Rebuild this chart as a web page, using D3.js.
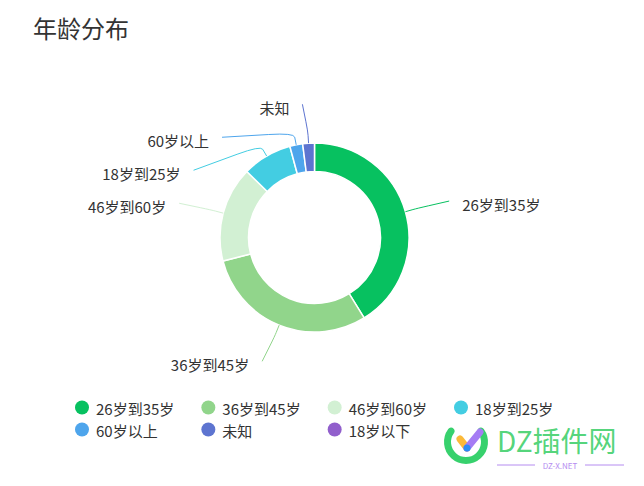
<!DOCTYPE html>
<html>
<head>
<meta charset="utf-8">
<script src="https://cdn.jsdelivr.net/npm/d3@7"></script>
<style>
  body { margin: 0; background: #fff; }
  text { font-family: "Microsoft YaHei", "Noto Sans CJK SC", sans-serif; }
</style>
</head>
<body>
<script>
let w = 644;
let h = 486;

let categories = ['26岁到35岁', '36岁到45岁', '46岁到60岁', '18岁到25岁', '60岁以上', '未知', '18岁以下'];
let values = [412, 298, 163, 85, 22, 20, 0];
let colors = ['#07c160', '#91d58b', '#d2f0d3', '#43cde2', '#4ea5ec', '#5d74d0', '#915fcc'];

let dataset = categories.map((c, i) => ({ name: c, value: values[i], color: colors[i] }));

let cx = 314.5;
let cy = 237.5;
let outer = 94.5;
let inner = 66;

let svg = d3.select('body')
  .append('svg')
  .attr('width', w)
  .attr('height', h);

svg.append('text')
  .attr('x', 33)
  .attr('y', 27)
  .attr('dominant-baseline', 'central')
  .attr('font-size', 24)
  .attr('fill', '#333')
  .text('年龄分布');

let pie = d3.pie()
  .value((d) => { return d.value; })
  .sort(null);

let arc = d3.arc()
  .innerRadius(inner)
  .outerRadius(outer);

let arcs = pie(dataset);

let g = svg.append('g')
  .attr('transform', 'translate(' + cx + ', ' + cy + ')');

g.selectAll('path.slice')
  .data(arcs.filter((d) => { return d.value > 0; }))
  .enter()
  .append('path')
  .attr('class', 'slice')
  .attr('d', arc)
  .attr('fill', (d) => { return d.data.color; })
  .attr('stroke', '#fff')
  .attr('stroke-width', 1.5);

// label layout: ends sit on an ellipse, overlapping labels pushed down
let len1 = 12;
let rx = outer + 45.5;
let ry = outer + 39;
let labelGap = 33;

let labels = arcs.filter((d) => { return d.value > 0; }).map((d) => {
  let a = (d.startAngle + d.endAngle) / 2;
  return {
    d: d,
    a: a,
    side: Math.sin(a) >= 0 ? 1 : -1,
    y: -ry * Math.cos(a)
  };
});

[1, -1].forEach((side) => {
  let list = labels.filter((l) => { return l.side === side; })
    .sort((p, q) => { return p.y - q.y; });
  for (let i = 1; i < list.length; i++) {
    if (list[i].y < list[i - 1].y + labelGap) {
      list[i].y = list[i - 1].y + labelGap;
    }
  }
});

labels.forEach((l) => {
  let dy = Math.min(Math.abs(l.y), ry - 0.5);
  l.x = l.side * rx * Math.sqrt(1 - (dy * dy) / (ry * ry));
  l.p0 = [outer * Math.sin(l.a), -outer * Math.cos(l.a)];
  l.p1 = [(outer + len1) * Math.sin(l.a), -(outer + len1) * Math.cos(l.a)];
  l.p2 = [l.x, l.y];
});

function linePath(l) {
  let t = 0.35;
  let a = [l.p1[0] + (l.p0[0] - l.p1[0]) * t, l.p1[1] + (l.p0[1] - l.p1[1]) * t];
  let b = [l.p1[0] + (l.p2[0] - l.p1[0]) * t, l.p1[1] + (l.p2[1] - l.p1[1]) * t];
  return 'M' + l.p0 + 'L' + a + 'Q' + l.p1 + ' ' + b + 'L' + l.p2;
}

g.selectAll('path.label-line')
  .data(labels)
  .enter()
  .append('path')
  .attr('class', 'label-line')
  .attr('d', linePath)
  .attr('fill', 'none')
  .attr('stroke', (l) => { return l.d.data.color; })
  .attr('stroke-width', 1);

g.selectAll('text.label')
  .data(labels)
  .enter()
  .append('text')
  .attr('class', 'label')
  .attr('x', (l) => { return l.x + l.side * 13; })
  .attr('y', (l) => { return l.y + 3; })
  .attr('text-anchor', (l) => { return l.side > 0 ? 'start' : 'end'; })
  .attr('dominant-baseline', 'central')
  .attr('font-size', 15)
  .attr('fill', '#333')
  .text((l) => { return l.d.data.name; });

// legend
let legendCol = d3.scaleLinear().domain([0, 3]).range([82, 461]);
let legendRow = d3.scaleLinear().domain([0, 1]).range([407.5, 429.5]);

let legend = svg.append('g')
  .selectAll('g')
  .data(dataset)
  .enter()
  .append('g')
  .attr('transform', (d, i) => {
    return 'translate(' + legendCol(i % 4) + ', ' + legendRow(Math.floor(i / 4)) + ')';
  });

legend.append('circle')
  .attr('r', 7)
  .attr('fill', (d) => { return d.color; });

legend.append('text')
  .attr('x', 14)
  .attr('y', 1)
  .attr('dominant-baseline', 'central')
  .attr('font-size', 15)
  .attr('fill', '#333')
  .text((d) => { return d.name; });

// site watermark
let wm = svg.append('g').attr('transform', 'translate(466, 442)');

wm.append('path')
  .attr('d', d3.arc().innerRadius(15).outerRadius(22).startAngle(0.75).endAngle(2 * Math.PI - 0.75).cornerRadius(3.5)())
  .attr('fill', '#37d16d');

wm.append('line')
  .attr('x1', -6).attr('y1', -3).attr('x2', 1).attr('y2', 6)
  .attr('stroke', '#fbb93a').attr('stroke-width', 7).attr('stroke-linecap', 'round');

wm.append('line')
  .attr('x1', 1).attr('y1', 6).attr('x2', 14).attr('y2', -10)
  .attr('stroke', '#a57cf4').attr('stroke-width', 7).attr('stroke-linecap', 'round');

wm.append('circle')
  .attr('cx', 1).attr('cy', 6).attr('r', 3.5)
  .attr('fill', '#2a8cf7');

svg.append('text')
  .attr('x', 497)
  .attr('y', 440)
  .attr('dominant-baseline', 'central')
  .attr('font-size', 28)
  .attr('fill', '#3ecf6a')
  .attr('fill-opacity', 0.9)
  .text('DZ插件网');

svg.append('line')
  .attr('x1', 497).attr('y1', 465).attr('x2', 535).attr('y2', 465)
  .attr('stroke', '#b58cf0').attr('stroke-width', 1);

svg.append('line')
  .attr('x1', 585).attr('y1', 465).attr('x2', 624).attr('y2', 465)
  .attr('stroke', '#b58cf0').attr('stroke-width', 1);

svg.append('text')
  .attr('x', 560)
  .attr('y', 465)
  .attr('text-anchor', 'middle')
  .attr('dominant-baseline', 'central')
  .attr('font-size', 8)
  .attr('fill', '#b58cf0')
  .text('DZ-X.NET');
</script>
</body>
</html>
